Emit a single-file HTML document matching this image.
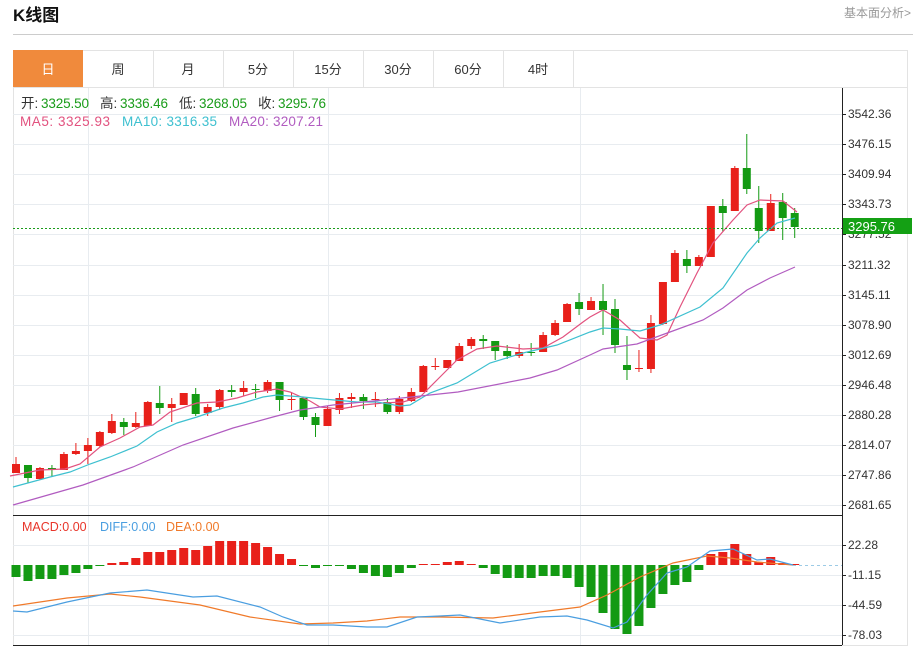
<!DOCTYPE html>
<html><head><meta charset="utf-8"><style>
body{margin:0;width:916px;height:647px;background:#fff;overflow:hidden;font-family:"Liberation Sans","Noto Sans CJK SC",sans-serif;}
</style></head><body>
<svg id="s" width="916" height="647" xmlns="http://www.w3.org/2000/svg" style="position:absolute;left:0;top:0" font-family="Liberation Sans, Noto Sans CJK SC, sans-serif">
<text x="13" y="21" font-size="17" font-weight="bold" fill="#111">K线图</text>
<text x="911" y="17" font-size="12" fill="#999" text-anchor="end">基本面分析&gt;</text>
<line x1="13" y1="34.5" x2="913" y2="34.5" stroke="#ccc"/>
<rect x="13.5" y="50.5" width="894" height="595" fill="none" stroke="#e3e3e3"/>
<line x1="13" y1="87.5" x2="907" y2="87.5" stroke="#e3e3e3"/>
<rect x="13" y="50" width="70" height="37" fill="#f08a3c"/>
<g stroke="#e3e3e3"><line x1="153.5" y1="50" x2="153.5" y2="87"/><line x1="223.5" y1="50" x2="223.5" y2="87"/><line x1="293.5" y1="50" x2="293.5" y2="87"/><line x1="363.5" y1="50" x2="363.5" y2="87"/><line x1="433.5" y1="50" x2="433.5" y2="87"/><line x1="503.5" y1="50" x2="503.5" y2="87"/><line x1="573.5" y1="50" x2="573.5" y2="87"/></g>
<g font-size="13" fill="#333" text-anchor="middle">
<text x="48" y="74" fill="#fff">日</text><text x="118" y="74">周</text><text x="188" y="74">月</text><text x="258" y="74">5分</text><text x="328" y="74">15分</text><text x="398" y="74">30分</text><text x="468" y="74">60分</text><text x="538" y="74">4时</text></g>
<g id="grid" stroke="#e8ecf0" stroke-width="1"></g>
<line x1="842.5" y1="88" x2="842.5" y2="645" stroke="#222"/>
<line x1="13" y1="515.5" x2="842" y2="515.5" stroke="#222"/>
<line x1="13" y1="645.5" x2="842" y2="645.5" stroke="#222"/>
<g id="ax" font-size="12" fill="#333"></g>
<g id="c"></g>
<line x1="13" y1="228.5" x2="842" y2="228.5" stroke="#1a9c1a" stroke-dasharray="2,2"/>
<line x1="793" y1="565.5" x2="842" y2="565.5" stroke="#9ccbe6" stroke-dasharray="3,3"/>
<rect x="843" y="218" width="69" height="16" fill="#14a014"/>
<text x="848" y="231" font-size="13" fill="#fff">3295.76</text>
<g font-size="13.5">
<text x="21" y="108" fill="#333">开:</text><text x="41" y="108" fill="#1a9c1a" textLength="48">3325.50</text>
<text x="100" y="108" fill="#333">高:</text><text x="120" y="108" fill="#1a9c1a" textLength="48">3336.46</text>
<text x="179" y="108" fill="#333">低:</text><text x="199" y="108" fill="#1a9c1a" textLength="48">3268.05</text>
<text x="258" y="108" fill="#333">收:</text><text x="278" y="108" fill="#1a9c1a" textLength="48">3295.76</text>
<text x="20" y="126" fill="#e2527f" textLength="90">MA5: 3325.93</text>
<text x="122" y="126" fill="#3ec0d0" textLength="95">MA10: 3316.35</text>
<text x="229" y="126" fill="#b15cc0" textLength="94">MA20: 3207.21</text>
</g>
<g font-size="12.5">
<text x="22" y="531" fill="#e8352a">MACD:0.00</text>
<text x="100" y="531" fill="#4a9ee0">DIFF:0.00</text>
<text x="166" y="531" fill="#f07a2a">DEA:0.00</text>
</g>
</svg>
<script>
var NS="http://www.w3.org/2000/svg",s=document.getElementById('s');
function el(p,t,a){var e=document.createElementNS(NS,t);for(var k in a)e.setAttribute(k,a[k]);p.appendChild(e);return e;}
var g=document.getElementById('grid');
[114,144,174,204,234,265,295,325,355,385,415,445,475,505,545,575,605,635].forEach(function(y){el(g,'line',{x1:13,x2:842,y1:y+.5,y2:y+.5});});
[88,328,580].forEach(function(x){el(g,'line',{x1:x+.5,x2:x+.5,y1:88,y2:645});});
var ax=document.getElementById('ax');
var L=[[114,"3542.36"],[144,"3476.15"],[174,"3409.94"],[204,"3343.73"],[234,"3277.52"],[265,"3211.32"],[295,"3145.11"],[325,"3078.90"],[355,"3012.69"],[385,"2946.48"],[415,"2880.28"],[445,"2814.07"],[475,"2747.86"],[505,"2681.65"],[545,"22.28"],[575,"-11.15"],[605,"-44.59"],[635,"-78.03"]];
L.forEach(function(l){el(ax,'line',{x1:842,x2:846,y1:l[0]+.5,y2:l[0]+.5,stroke:'#222'});var t=el(ax,'text',{x:848,y:l[0]+4});t.textContent=l[1];});
var c=document.getElementById('c');
var R='#e8201a',G='#139a13';
var K=[[464,473,457,473,R],[465,478,465,483,G],[468,479,467,480,R],[468,470,465,476,G],[454,470,452,470,R],[451,454,443,455,R],[445,451,438,464,R],[432,446,431,447,R],[421,433,414,434,R],[422,427,418,435,G],[423,427,412,428,R],[402,426,401,426,R],[403,408,386,414,G],[404,408,398,422,R],[393,405,393,405,R],[394,414,388,416,G],[407,413,404,416,R],[390,407,389,410,R],[390,392,385,397,G],[388,392,381,396,R],[389,390,384,398,G],[382,391,380,393,R],[382,400,382,411,G],[399,400,392,410,R],[398,417,398,420,G],[417,425,413,437,G],[409,426,406,426,R],[398,410,393,414,R],[397,399,393,408,R],[397,401,394,409,G],[399,400,392,407,R],[402,412,398,414,G],[399,412,396,414,R],[392,401,388,402,R],[366,392,365,392,R],[366,367,358,370,R],[360,368,360,368,R],[346,361,343,361,R],[339,346,337,349,R],[339,341,335,349,G],[341,351,341,360,G],[351,356,345,359,G],[352,356,344,358,R],[352,353,343,356,G],[335,352,332,352,R],[323,335,320,336,R],[304,322,303,322,R],[302,309,293,315,G],[301,310,297,310,R],[301,310,284,335,G],[309,345,299,353,G],[365,370,336,380,G],[368,369,350,372,R],[323,369,315,373,R],[282,324,282,325,R],[253,282,250,282,R],[259,266,250,273,G],[257,266,255,266,R],[206,257,206,257,R],[206,213,199,232,G],[168,211,166,211,R],[168,189,134,194,G],[208,231,186,243,G],[203,231,194,231,R],[202,218,193,240,G],[213,227,208,238,G]];
var M=[577,581,579,579,575,573,569,566,563,562,558,552,552,550,548,550,546,541,541,541,543,547,554,559,566,568,566,566,569,573,576,577,573,568,564,564,562,561,564,568,574,578,578,578,576,576,578,587,597,613,629,634,626,608,594,585,582,570,554,552,544,554,562,557,563,564];
K.forEach(function(k,i){var x=16+11.98*i;
el(c,'line',{x1:x,x2:x,y1:k[2],y2:k[3],stroke:k[4],'stroke-width':1});
el(c,'rect',{x:x-4,y:k[0],width:8,height:Math.max(1,k[1]-k[0]),fill:k[4]});
var m=M[i],z=565;if(Math.abs(m-z)<1)m=z+(i<30?1:-1);
el(c,'rect',{x:x-4.5,y:Math.min(m,z),width:9,height:Math.max(1,Math.abs(m-z)),fill:m>z?G:R});});
function pl(pts,col){el(c,'polyline',{points:pts,fill:'none',stroke:col,'stroke-width':1.2});}
pl("10,476 40,470 65,469 80,464 100,447 120,438 140,427 153,425 170,412 197,403 217,402 237,398 257,392 277,389 290,392 310,401 320,407 340,409 363,405 383,403 403,402 420,397 440,377 457,360 477,349 497,346 523,349 543,348 563,337 583,322 590,317 603,310 620,320 640,338 657,340 667,335 680,307 697,273 713,243 733,220 747,205 760,200 783,201 797,212","#e2527f");
pl("13,487 50,477 70,472 90,464 110,457 137,446 157,432 177,423 197,417 223,408 243,403 263,397 277,395 303,397 323,399 357,402 377,402 400,406 410,405 430,393 457,383 490,363 523,353 557,345 590,332 603,328 620,329 640,331 660,325 700,307 723,288 747,253 760,238 777,223 795,218","#3ec0d0");
pl("13,505 83,485 133,467 183,445 233,428 273,417 300,410 333,405 383,400 458,392 530,378 557,370 590,355 603,349 637,344 670,332 703,320 723,308 747,290 770,278 795,267","#b15cc0");
pl("13,606 67,598 110,594 140,597 200,605 250,617 300,624 333,623 367,621 400,617 440,617 493,618 540,612 580,607 607,595 640,577 673,563 707,556 730,558 757,562 793,565","#f07a2a");
pl("13,611 27,612 67,602 110,593 147,590 160,592 193,597 217,596 260,607 283,617 307,625 333,625 367,627 387,627 417,617 440,616 460,615 500,623 540,617 567,616 587,620 613,628 627,622 647,595 667,573 687,567 710,551 733,549 757,560 770,559 793,565","#4a9ee0");
</script>
</body></html>
